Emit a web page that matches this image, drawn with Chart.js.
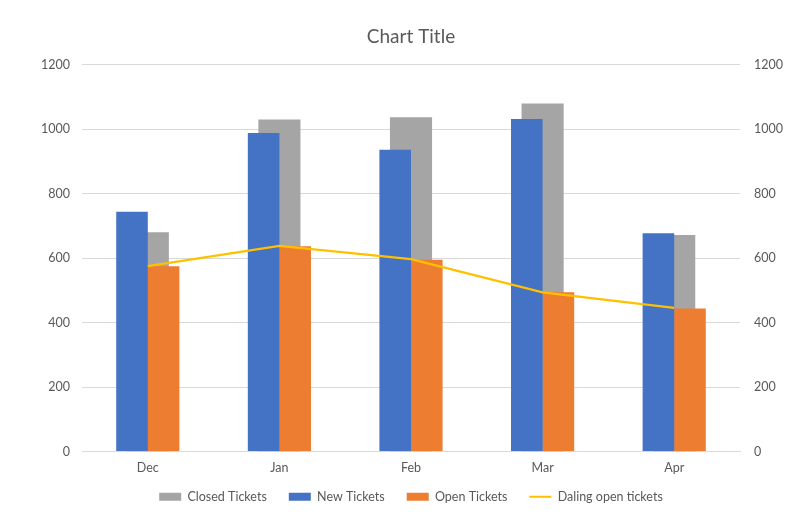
<!DOCTYPE html>
<html>
<head>
<meta charset="utf-8">
<script src="https://cdn.jsdelivr.net/npm/chart.js@4.4.0/dist/chart.umd.min.js"></script>
<style>
html,body{margin:0;padding:0;background:#fff;}
#wrap{width:800px;height:525px;position:relative;}
</style>
</head>
<body>
<div id="wrap"><canvas id="c"></canvas></div>
<script>
const categories = ["Dec", "Jan", "Feb", "Mar", "Apr"];
const closedTickets = [680, 1030, 1037, 1080, 672];
const newTickets = [744, 988, 936, 1032, 677];
const openTickets = [575, 637, 595, 494, 444];
const dalingOpen = [575, 638, 597, 494, 446];
const yTicks = [0, 200, 400, 600, 800, 1000, 1200];

const FONT = "Lato, 'Open Sans', sans-serif";
const TXT = "#595959";

const legendShift = {
  id: 'legendShift',
  afterLayout(chart) {
    const lg = chart.legend;
    if (lg) { lg.top -= 8; lg.bottom -= 8; }
  }
};

new Chart(document.getElementById('c'), {
  type: 'bar',
  plugins: [legendShift],
  data: {
    labels: categories,
    datasets: [
      {
        label: 'Closed Tickets', data: closedTickets, backgroundColor: '#A5A5A5',
        grouped: false, order: 3, barPercentage: 1, categoryPercentage: 0.32, yAxisID: 'y2'
      },
      {
        label: 'New Tickets', data: newTickets, backgroundColor: '#4472C4',
        order: 2, barPercentage: 1, categoryPercentage: 0.48, yAxisID: 'y'
      },
      {
        label: 'Open Tickets', data: openTickets, backgroundColor: '#ED7D31',
        order: 2, barPercentage: 1, categoryPercentage: 0.48, yAxisID: 'y'
      },
      {
        type: 'line', label: 'Daling open tickets', data: dalingOpen, borderColor: '#FFC000',
        backgroundColor: '#FFC000', borderWidth: 2.25, pointRadius: 0, tension: 0,
        order: 0, yAxisID: 'y', fill: false
      }
    ]
  },
  options: {
    responsive: true, maintainAspectRatio: false, animation: false,
    layout: { padding: { left: 0, right: 0, top: 0, bottom: 4 } },
    plugins: {
      title: {
        display: true, text: 'Chart Title', color: TXT, fullSize: false,
        font: { family: FONT, size: 19, weight: 'normal' },
        padding: { top: 25, bottom: 17 }
      },
      legend: {
        position: 'bottom', fullSize: false,
        labels: {
          color: TXT, font: { family: FONT, size: 12.5 },
          usePointStyle: true, pointStyleWidth: 22, boxHeight: 8, padding: 22,
          sort: (a, b) => a.datasetIndex - b.datasetIndex,
          generateLabels: (chart) => {
            const items = Chart.defaults.plugins.legend.labels.generateLabels(chart);
            items.forEach(it => {
              const ds = chart.data.datasets[it.datasetIndex];
              if (ds.type === 'line') { it.pointStyle = 'line'; it.lineWidth = 2; it.strokeStyle = '#FFC000'; }
              else { it.pointStyle = 'rect'; it.lineWidth = 0; }
            });
            return items;
          }
        }
      },
      tooltip: { enabled: false }
    },
    scales: {
      x: {
        grid: { display: false, drawTicks: false },
        border: { display: true, color: '#D9D9D9' },
        afterFit: (s) => { s.height = 25; },
        ticks: { color: TXT, font: { family: FONT, size: 12.5 }, padding: 9 }
      },
      y: {
        position: 'left', min: 0, max: 1200,
        afterBuildTicks: (s) => { s.ticks = yTicks.map(v => ({ value: v })); },
        afterFit: (s) => { s.width = 82; },
        grid: { color: '#D9D9D9', drawTicks: false },
        border: { display: false },
        ticks: { color: TXT, font: { family: FONT, size: 12.5 }, padding: 12, callback: (v) => String(v) }
      },
      y2: {
        position: 'right', min: 0, max: 1200,
        afterBuildTicks: (s) => { s.ticks = yTicks.map(v => ({ value: v })); },
        afterFit: (s) => { s.width = 60; },
        grid: { display: false, drawTicks: false },
        border: { display: false },
        ticks: { color: TXT, font: { family: FONT, size: 12.5 }, padding: 14, callback: (v) => String(v) }
      }
    }
  }
});
</script>
</body>
</html>
